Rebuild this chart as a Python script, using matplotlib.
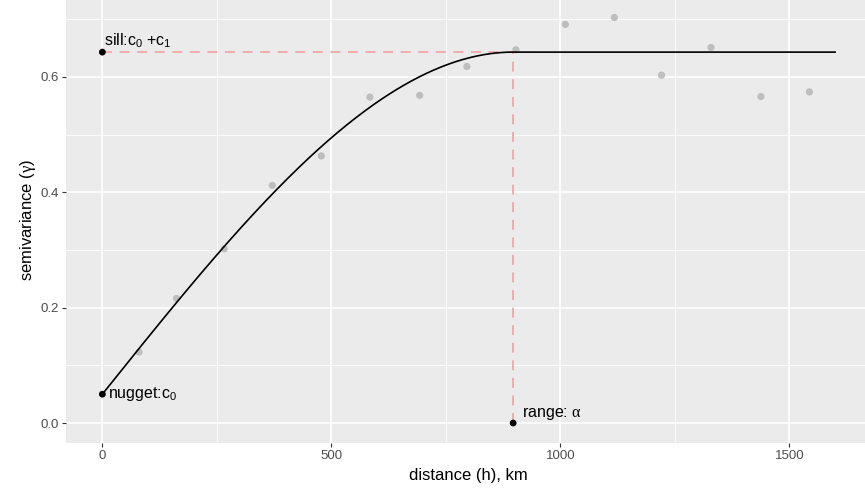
import numpy as np
import matplotlib
matplotlib.use("Agg")
import matplotlib.pyplot as plt

plt.rcParams['font.family'] = ['Liberation Sans', 'DejaVu Sans']
plt.rcParams['mathtext.fontset'] = 'custom'
plt.rcParams['mathtext.rm'] = 'Liberation Sans'
plt.rcParams['mathtext.it'] = 'Liberation Serif'

# empirical semivariogram
dist = [80, 162, 266, 371, 478, 584, 693, 796, 903, 1011, 1118, 1221, 1329, 1438, 1544]
gamma = [0.123, 0.216, 0.302, 0.412, 0.463, 0.565, 0.568, 0.618, 0.647,
         0.691, 0.703, 0.603, 0.651, 0.566, 0.574]

# fitted spherical model parameters
nugget = 0.05
sill = 0.643
rng = 897
h_max = 1600


def spherical(h, c0, c, a):
    h = np.asarray(h, dtype=float)
    r = np.minimum(h / a, 1.0)
    return c0 + (c - c0) * (1.5 * r - 0.5 * r ** 3)


fig = plt.figure(figsize=(8.65, 4.95), dpi=100)
ax = fig.add_axes([0.0760, 0.1044, 0.9318, 0.9015])
ax.set_facecolor('#EBEBEB')
for s in ax.spines.values():
    s.set_visible(False)

ax.set_xlim(-80, 1680)
ax.set_ylim(-0.0352, 0.7384)
ax.set_xticks([0, 500, 1000, 1500])
ax.set_xticks([250, 750, 1250], minor=True)
ax.set_yticks([0.0, 0.2, 0.4, 0.6])
ax.set_yticklabels(['0.0', '0.2', '0.4', '0.6'])
ax.set_yticks([0.1, 0.3, 0.5, 0.7], minor=True)
ax.grid(which='major', color='white', linewidth=1.2)
ax.grid(which='minor', color='white', linewidth=0.6)
ax.set_axisbelow(True)
ax.tick_params(which='major', length=3, width=0.8, color='#333333',
               labelcolor='#4D4D4D', labelsize=9.5, pad=2)
ax.tick_params(which='minor', length=0)

ax.scatter(dist, gamma, s=27, color='#BEBEBE', edgecolors='none', zorder=2)

hh = np.linspace(0, h_max, 400)
ax.plot(hh, spherical(hh, nugget, sill, rng), color='black', linewidth=1.2, zorder=3)

ax.plot([0, rng], [sill, sill], color='#F39A9A', linewidth=1.1,
        dashes=(6.5, 5), zorder=2.5)
ax.plot([rng, rng], [0, sill], color='#F39A9A', linewidth=1.1,
        dashes=(6.5, 5), zorder=2.5)

ax.scatter([0, 0, rng], [sill, nugget, 0], s=24, color='black', edgecolors='none', zorder=4)

ax.text(4, sill + 0.004, r'sill:c$_0$ +c$_1$', fontsize=11.5, ha='left', va='bottom')
ax.text(12, nugget, r'nugget:c$_0$', fontsize=11.5, ha='left', va='center')
ax.text(916, 0.016, r'range: $\mathit{\alpha}$', fontsize=11.5, ha='left', va='center')

ax.set_xlabel('distance (h), km', fontsize=12, labelpad=4)
ax.set_ylabel(r'semivariance ($\mathit{\gamma}$)', fontsize=12, labelpad=2)

fig.savefig('out.png', dpi=100)
